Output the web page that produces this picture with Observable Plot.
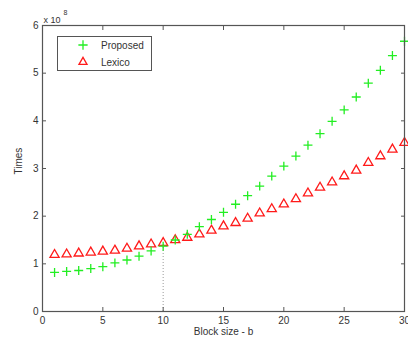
<!DOCTYPE html>
<html>
<head>
<meta charset="utf-8">
<script src="https://cdn.jsdelivr.net/npm/d3@7"></script>
<script src="https://cdn.jsdelivr.net/npm/@observablehq/plot@0.6"></script>
<style>
  html, body { margin: 0; padding: 0; background: #fff; }
  #chart svg { display: block; }
</style>
</head>
<body>
<div id="chart"></div>
<script>
const blockSize = [1,2,3,4,5,6,7,8,9,10,11,12,13,14,15,16,17,18,19,20,21,22,23,24,25,26,27,28,29,30];
const proposed = [0.82,0.84,0.86,0.90,0.94,1.02,1.08,1.16,1.27,1.37,1.50,1.62,1.78,1.93,2.08,2.25,2.43,2.63,2.84,3.05,3.26,3.49,3.73,3.99,4.23,4.50,4.79,5.06,5.37,5.67];
const lexico = [1.19,1.20,1.22,1.24,1.26,1.28,1.32,1.37,1.41,1.44,1.50,1.55,1.62,1.70,1.79,1.86,1.95,2.06,2.15,2.25,2.36,2.48,2.60,2.71,2.84,2.96,3.12,3.26,3.40,3.54];
const xTicks = [0,5,10,15,20,25,30];
const yTicks = [0,1,2,3,4,5,6];
const seriesNames = ["Proposed", "Lexico"];
const markerAtB = 10;

const dataP = blockSize.map((b, i) => ({b, v: proposed[i]}));
const dataL = blockSize.map((b, i) => ({b, v: lexico[i]}));
const guide = [{b: markerAtB, v: lexico[blockSize.indexOf(markerAtB)]}];

const axisColor = "#555";
const textColor = "#333";
const font = "Arial, 'Liberation Sans', sans-serif";

const chart = Plot.plot({
  width: 408,
  height: 345,
  marginLeft: 42,
  marginRight: 4,
  marginTop: 25,
  marginBottom: 34,
  style: {fontFamily: font, fontSize: "10px", color: textColor, background: "#fff"},
  x: {domain: [0, 30], ticks: xTicks},
  y: {domain: [0, 6], ticks: yTicks},
  marks: [
    Plot.ruleX(guide, {x: "b", y1: 0, y2: "v", stroke: "#999", strokeDasharray: "1,2", strokeWidth: 1}),
    Plot.dot(dataL, {x: "b", y: "v", symbol: "triangle", r: 3.4, stroke: "#ff1a1a", fill: "none", strokeWidth: 1.3}),
    Plot.dot(dataP, {x: "b", y: "v", symbol: "plus", r: 3.0, stroke: "#22ee22", strokeWidth: 1.3}),
    Plot.frame({stroke: axisColor, strokeWidth: 1.2}),
    Plot.axisX({ticks: xTicks, tickSize: -4, tickPadding: 9, tickFormat: d3.format("d"), stroke: axisColor, fill: textColor, label: null}),
    Plot.axisX({ticks: xTicks, anchor: "top", tickSize: -4, tickFormat: () => "", stroke: axisColor, label: null}),
    Plot.axisY({ticks: yTicks, tickSize: -4, tickPadding: 8, tickFormat: d3.format("d"), stroke: axisColor, fill: textColor, label: null}),
    Plot.axisY({ticks: yTicks, anchor: "right", tickSize: -4, tickFormat: () => "", stroke: axisColor, label: null}),
    Plot.text(["Block size - b"], {frameAnchor: "bottom", dy: 23, fill: textColor, fontSize: 10}),
    Plot.text(["Times"], {frameAnchor: "left", dx: -24, dy: 6, rotate: -90, fill: textColor, fontSize: 10}),
    Plot.text(["x 10"], {frameAnchor: "top-left", textAnchor: "start", dx: 1, dy: -9, fill: textColor, fontSize: 9}),
    Plot.text(["8"], {frameAnchor: "top-left", textAnchor: "start", dx: 21, dy: -15, fill: textColor, fontSize: 7})
  ]
});

document.getElementById("chart").appendChild(chart);

// Legend box inside the plot area
const svg = d3.select(chart);
const lg = svg.append("g").attr("font-family", font).attr("font-size", 10).attr("text-anchor", "start");
lg.append("rect").attr("x", 57.5).attr("y", 36.5).attr("width", 94).attr("height", 34)
  .attr("fill", "#fff").attr("stroke", axisColor).attr("stroke-width", 1);
const cols = ["#22ee22", "#ff1a1a"];
seriesNames.forEach((name, i) => {
  const y = 45 + i * 17;
  lg.append("path")
    .attr("d", d3.symbol(i === 0 ? d3.symbolPlus : d3.symbolTriangle, i === 0 ? 30 : 28)())
    .attr("transform", `translate(83,${y})`)
    .attr("fill", "none").attr("stroke", cols[i]).attr("stroke-width", 1.3);
  lg.append("text").attr("x", 101).attr("y", y).attr("dy", "0.35em")
    .attr("fill", textColor).text(name);
});
</script>
</body>
</html>
